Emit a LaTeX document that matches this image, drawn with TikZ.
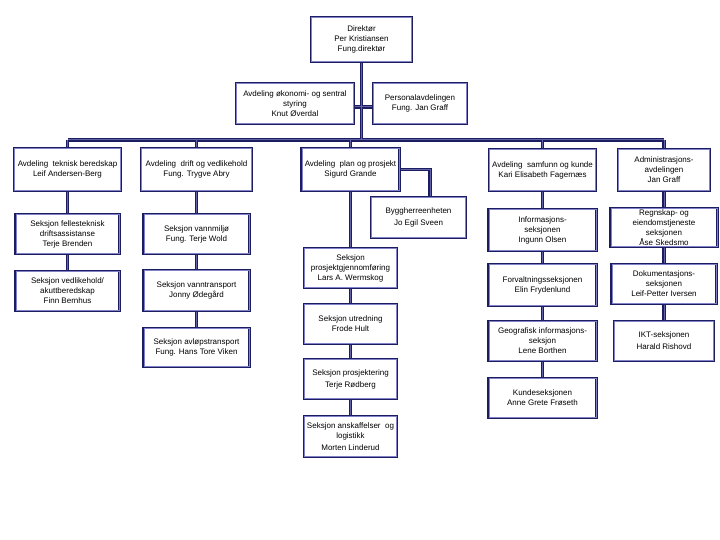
\documentclass[tikz,border=0pt]{standalone}
\usepackage{fontspec}
\setmainfont{Liberation Sans}
\pgfdeclarelayer{bg}
\pgfsetlayers{bg,main}
\definecolor{navy}{RGB}{28,28,96}
\definecolor{lav}{RGB}{130,130,200}
\begin{document}
\begin{tikzpicture}[x=1pt,y=-1pt,
  box/.style={draw=navy, line width=2.4pt, fill=white, inner sep=0pt, align=center,
    font=\fontsize{8}{10}\selectfont, text=black},
  conn/.style={draw=navy, line width=3.4pt},
  conninner/.style={draw=lav!70!navy, line width=1pt}]
\useasboundingbox (0,0) rectangle (720,540);

% top
\node[box, minimum width=101, minimum height=45] (dir) at (361.5,39.5) {Direktør\\Per Kristiansen\\Fung.direktør};
\node[box, minimum width=118, minimum height=41] (oek) at (295,103.5) {Avdeling økonomi- og sentral\\styring\\Knut Øverdal};
\node[box, minimum width=94, minimum height=41] (pers) at (420,103.5) {Personalavdelingen\\Fung. Jan Graff};

% level 1
\node[box, minimum width=107, minimum height=43] (tek) at (67.5,169.5) {Avdeling~ teknisk beredskap\\Leif Andersen-Berg};
\node[box, minimum width=111, minimum height=43] (drift) at (196.5,169.5) {Avdeling~ drift og vedlikehold\\Fung. Trygve Abry};
\node[box, minimum width=98, minimum height=43] (plan) at (350.5,169.5) {Avdeling~ plan og prosjekt\\Sigurd Grande};
\node[box, minimum width=107, minimum height=42] (samf) at (542.5,170) {Avdeling~ samfunn og kunde\\Kari Elisabeth Fagernæs};
\node[box, minimum width=92, minimum height=42] (admin) at (664,170) {Administrasjons-\\avdelingen\\Jan Graff};

% plan side
\node[box, minimum width=95, minimum height=41] (bygg) at (418.5,217.5) {Byggherreenheten\\[2pt]Jo Egil Sveen};

% left column
\node[box, minimum width=104, minimum height=40] (fell) at (67.5,234) {Seksjon fellesteknisk\\driftsassistanse\\Terje Brenden};
\node[box, minimum width=104, minimum height=40] (vedl) at (67.5,291) {Seksjon vedlikehold/\\akuttberedskap\\Finn Bernhus};

% drift column
\node[box, minimum width=106, minimum height=40] (vannm) at (196.5,234) {Seksjon vannmiljø\\Fung. Terje Wold};
\node[box, minimum width=106, minimum height=41] (vannt) at (196.5,290.5) {Seksjon vanntransport\\Jonny Ødegård};
\node[box, minimum width=106, minimum height=39] (avl) at (196.5,347.5) {Seksjon avløpstransport\\Fung. Hans Tore Viken};

% plan column
\node[box, minimum width=93, minimum height=40] (pgj) at (350.5,268) {Seksjon\\prosjektgjennomføring\\Lars A. Wermskog};
\node[box, minimum width=93, minimum height=40] (utr) at (350.5,324) {Seksjon utredning\\Frode Hult};
\node[box, minimum width=93, minimum height=40] (prosj) at (350.5,379) {Seksjon prosjektering\\[2pt]Terje Rødberg};
\node[box, minimum width=93, minimum height=41] (ansk) at (350.5,436.5) {Seksjon anskaffelser~ og\\logistikk\\[2pt]Morten Linderud};

% samfunn column
\node[box, minimum width=108, minimum height=42] (info) at (542.5,230) {Informasjons-\\seksjonen\\Ingunn Olsen};
\node[box, minimum width=108, minimum height=42] (forv) at (542.5,285) {Forvaltningsseksjonen\\Elin Frydenlund};
\node[box, minimum width=108, minimum height=40] (geo) at (542.5,341) {Geografisk informasjons-\\seksjon\\Lene Borthen};
\node[box, minimum width=108, minimum height=40] (kunde) at (542.5,398) {Kundeseksjonen\\Anne Grete Frøseth};

% admin column
\node[box, minimum width=107, minimum height=39] (regn) at (664,227.5) {Regnskap- og\\eiendomstjeneste\\seksjonen\\Åse Skedsmo};
\node[box, minimum width=105, minimum height=40] (dok) at (664,284) {Dokumentasjons-\\seksjonen\\Leif-Petter Iversen};
\node[box, minimum width=100, minimum height=40] (ikt) at (664,341) {IKT-seksjonen\\[2pt]Harald Rishovd};

% inner rims
\foreach \n in {dir,oek,pers,tek,drift,plan,samf,admin,bygg,fell,vedl,vannm,vannt,avl,pgj,utr,prosj,ansk,info,forv,geo,kunde,regn,dok,ikt}{
  \draw[lav, line width=0.8pt] ([shift={(1.6pt,-1.6pt)}]\n.north west) rectangle ([shift={(-1.6pt,1.6pt)}]\n.south east);
}

\coordinate (bus) at (361.5,140);
\coordinate (byggdrop) at (430,217.5);

\def\connpaths{
  (dir.south) -- (bus)
  ([yshift=-3.5pt]oek.east) -- ([yshift=-3.5pt]pers.west)
  (tek.north |- bus) -- (admin.north |- bus)
  (tek.north) -- (tek.north |- bus)
  (drift.north) -- (drift.north |- bus)
  (plan.north) -- (plan.north |- bus)
  (samf.north) -- (samf.north |- bus)
  (admin.north) -- (admin.north |- bus)
  (plan.east) -| (byggdrop |- bygg.north)
  (tek.south) -- (vedl.north)
  (drift.south) -- (avl.north)
  (plan.south) -- (ansk.north)
  (samf.south) -- (kunde.north)
  (admin.south) -- (ikt.north)
}
\begin{pgfonlayer}{bg}
  \fill[white] (0,0) rectangle (720,540);
  \draw[conn] \connpaths;
  \draw[conninner] \connpaths;
\end{pgfonlayer}
\end{tikzpicture}
\end{document}
